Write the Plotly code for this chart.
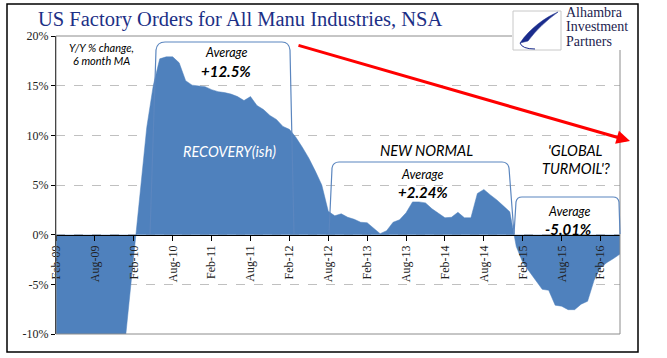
import plotly.graph_objects as go
import pandas as pd

# ---- data ----
months = pd.date_range("2009-02-01", "2016-05-01", freq="MS").strftime("%b-%y").tolist()
values = [
    -14, -17, -20, -23, -25, -26, -26, -25, -22, -19,      # Feb-09 .. Nov-09
    -15, -8.7, -2.2, 4.3, 10.8, 15.0, 17.7, 17.9, 17.9, 17.3,  # Dec-09 .. Sep-10
    15.5, 15.05, 14.95, 14.9, 14.6, 14.4, 14.3, 14.15, 13.9, 13.5,  # Oct-10 .. Jul-11
    13.9, 13.0, 12.6, 12.0, 11.6, 10.9, 10.6, 9.8, 8.8, 7.7,   # Aug-11 .. May-12
    6.4, 5.0, 2.35, 1.9, 2.1, 1.75, 1.55, 1.25, 1.2, 0.6,     # Jun-12 .. Mar-13
    0.1, 0.4, 1.25, 1.5, 2.2, 3.3, 3.3, 3.2, 2.6, 2.15,       # Apr-13 .. Jan-14
    1.7, 1.75, 2.25, 1.7, 1.7, 4.15, 4.55, 4.0, 3.5, 2.9,     # Feb-14 .. Nov-14
    2.3, -1.2, -2.8, -3.7, -4.6, -5.5, -5.6, -7.1, -7.2, -7.55,  # Dec-14 .. Sep-15
    -7.55, -7.0, -6.7, -4.6, -3.3, -2.8, -2.4, -1.95,         # Oct-15 .. May-16
]
tick_labels = ["Feb-09", "Aug-09", "Feb-10", "Aug-10", "Feb-11", "Aug-11", "Feb-12", "Aug-12",
               "Feb-13", "Aug-13", "Feb-14", "Aug-14", "Feb-15", "Aug-15", "Feb-16"]
y_ticks = [-10, -5, 0, 5, 10, 15, 20]
averages = ["+12.5%", "+2.24%", "-5.01%"]

xs = list(range(len(months)))
tick_vals = [months.index(t) for t in tick_labels]

# ---- layout helpers (pixel -> paper) ----
L, R, T, B = 56, 620, 36, 334
def X(px): return (px - L) / (R - L)
def Y(py): return (B - py) / (B - T)
def path(pts):
    s = ""
    for cmd, coords in pts:
        s += cmd + " " + " ".join(f"{X(coords[i]):.4f},{Y(coords[i+1]):.4f}" for i in range(0, len(coords), 2)) + " "
    return s.strip()

BLUE = "#4F81BD"
NAVY = "#1c2f86"

fig = go.Figure()
fig.add_trace(go.Scatter(
    x=xs, y=values, mode="lines", fill="tozeroy",
    fillcolor=BLUE, line=dict(color=BLUE, width=0.5), hoverinfo="skip", showlegend=False))

serif = "Liberation Serif"
sans = "Lato"

shapes = []
# plot border (gray)
shapes.append(dict(type="rect", xref="paper", yref="paper", x0=0, x1=1, y0=0, y1=1,
                   line=dict(color="#8c8c8c", width=1), layer="above"))
# brackets
bracket_line = dict(color="#5b86bf", width=1.2)
b1 = path([("M", [150, 234]), ("L", [156, 50]), ("Q", [157, 42, 165, 42]), ("L", [282, 42]),
           ("Q", [289, 42, 290, 50]), ("L", [294, 234])])
b2 = path([("M", [329, 234]), ("L", [332, 168]), ("Q", [333, 162, 339, 162]), ("L", [502, 162]),
           ("Q", [508, 162, 509, 168]), ("L", [514, 234])])
b3 = path([("M", [514, 234]), ("L", [516, 202]), ("Q", [517, 197, 522, 197]), ("L", [613, 197]),
           ("Q", [618, 197, 619, 202]), ("L", [620, 234])])
for p in (b1, b2, b3):
    shapes.append(dict(type="path", xref="paper", yref="paper", path=p, line=bracket_line, layer="above"))
# logo
shapes.append(dict(type="rect", xref="paper", yref="paper", x0=X(512), x1=X(636), y0=Y(50), y1=Y(6),
                   fillcolor="white", line=dict(width=0), layer="above"))
shapes.append(dict(type="rect", xref="paper", yref="paper", x0=X(513), x1=X(561), y0=Y(50), y1=Y(11),
                   fillcolor="white", line=dict(color="#c8c8c8", width=1), layer="above"))
sw = path([("M", [558, 12]), ("C", [546, 17, 530, 28, 520, 43]), ("L", [528, 41]),
           ("C", [536, 30, 547, 20, 558, 12])]) + " Z"
shapes.append(dict(type="path", xref="paper", yref="paper", path=sw,
                   fillcolor="#1a2c8c", line=dict(color="#1a2c8c", width=0.5), layer="above"))
sw2 = path([("M", [520, 43]), ("Q", [522, 49, 535, 49])])
shapes.append(dict(type="path", xref="paper", yref="paper", path=sw2,
                   line=dict(color="#1a2c8c", width=1), layer="above"))
# outer frame
shapes.append(dict(type="rect", xref="paper", yref="paper", x0=X(7), x1=X(638), y0=Y(352), y1=Y(4),
                   line=dict(color="black", width=1.5), layer="above"))

ann = []
def text(px, py, t, size, color="black", family=sans, anchor="center"):
    ann.append(dict(xref="paper", yref="paper", x=X(px), y=Y(py), text=t, showarrow=False,
                    xanchor=anchor, yanchor="middle", font=dict(size=size, color=color, family=family)))

text(240, 19, "US Factory Orders for All Manu Industries, NSA", 20.5, NAVY, serif)
text(564, 12.5, "Alhambra", 14, "#1d1d4f", serif, "left")
text(564, 27, "Investment", 14, "#1d1d4f", serif, "left")
text(564, 41.5, "Partners", 14, "#1d1d4f", serif, "left")
text(101, 47, "<i>Y/Y % change,</i>", 11)
text(101, 60.5, "<i>6 month MA</i>", 11)
text(226, 53, "<i>Average</i>", 12.5)
text(226, 71, f"<b><i>{averages[0]}</i></b>", 15)
text(229, 151, "<i>RECOVERY(ish)</i>", 14.5, "white")
text(426, 150, "<i>NEW NORMAL</i>", 14.5)
text(422, 174, "<i>Average</i>", 12.5)
text(423, 192, f"<b><i>{averages[1]}</i></b>", 15)
text(575, 150, "<i>'GLOBAL</i>", 14.5)
text(576, 168, "<i>TURMOIL'?</i>", 14.5)
text(569, 211, "<i>Average</i>", 12.5)
text(568, 228.5, f"<b><i>{averages[2]}</i></b>", 15)
# trend arrow
ann.append(dict(xref="paper", yref="paper", x=X(630), y=Y(141), ax=297 - 630, ay=45 - 141,
                axref="pixel", ayref="pixel", text="", showarrow=True, arrowhead=2, arrowsize=0.9,
                arrowwidth=3, arrowcolor="#ff0000", standoff=0, startstandoff=0))

fig.update_layout(
    width=667, height=358, autosize=False,
    margin=dict(l=L, r=667 - R, t=T, b=358 - B, pad=0),
    paper_bgcolor="white", plot_bgcolor="white",
    showlegend=False,
    xaxis=dict(range=[0, len(months) - 1], tickmode="array", tickvals=tick_vals, ticktext=tick_labels,
               tickangle=-90, anchor="free", position=1 / 3, showline=True, linecolor="black",
               linewidth=1, ticks="outside", ticklen=5, tickcolor="black", showgrid=False,
               zeroline=False, layer="above traces",
               tickfont=dict(family=serif, size=12, color="#222")),
    yaxis=dict(range=[-10, 20], tickmode="array", tickvals=y_ticks,
               ticktext=[f"{v}%" for v in y_ticks], showgrid=True, gridcolor="#c0c0c0",
               griddash="dash", gridwidth=1, zeroline=False, showline=True, linecolor="black",
               linewidth=1, ticks="outside", ticklen=4, tickcolor="black",
               tickfont=dict(family=serif, size=12, color="#222")),
    shapes=shapes, annotations=ann,
)

fig.write_html("out.html", config={"displayModeBar": False},
               post_script="document.body.style.margin='0px';document.body.style.padding='0px';")
